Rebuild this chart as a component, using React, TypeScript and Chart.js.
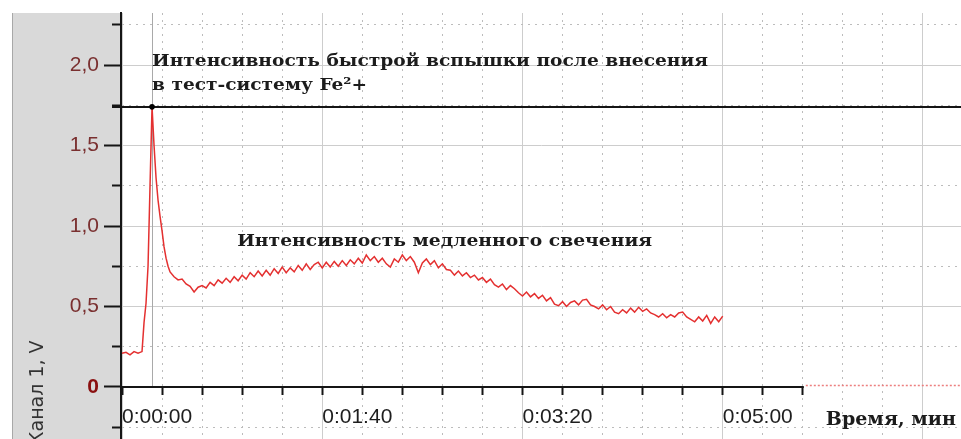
import React, { useEffect, useRef } from 'react';
import { Chart, registerables } from 'chart.js';

Chart.register(...registerables);

// ---- data ----
const timeSec = [
  0, 2, 4, 6, 8, 10, 11, 12, 13, 14,
  15, 16, 17, 18, 19, 20, 21, 22, 23, 24,
  26, 28, 30, 32, 34, 36, 38, 40, 42, 44,
  46, 48, 50, 52, 54, 56, 58, 60, 62, 64,
  66, 68, 70, 72, 74, 76, 78, 80, 82, 84,
  86, 88, 90, 92, 94, 96, 98, 100, 102, 104,
  106, 108, 110, 112, 114, 116, 118, 120, 122, 124,
  126, 128, 130, 132, 134, 136, 138, 140, 142, 144,
  146, 148, 150, 152, 154, 156, 158, 160, 162, 164,
  166, 168, 170, 172, 174, 176, 178, 180, 182, 184,
  186, 188, 190, 192, 194, 196, 198, 200, 202, 204,
  206, 208, 210, 212, 214, 216, 218, 220, 222, 224,
  226, 228, 230, 232, 234, 236, 238, 240, 242, 244,
  246, 248, 250, 252, 254, 256, 258, 260, 262, 264,
  266, 268, 270, 272, 274, 276, 278, 280, 282, 284,
  286, 288, 290, 292, 294, 296, 298, 300,
];

const channelV = [
  0.21, 0.215, 0.2, 0.22, 0.21, 0.22, 0.4, 0.52, 0.75, 1.25,
  1.74, 1.5, 1.3, 1.16, 1.06, 0.97, 0.87, 0.8, 0.75, 0.715,
  0.685, 0.665, 0.67, 0.64, 0.625, 0.59, 0.62, 0.63, 0.615, 0.65,
  0.63, 0.665, 0.645, 0.675, 0.65, 0.685, 0.66, 0.695, 0.67, 0.71,
  0.685, 0.72, 0.69, 0.725, 0.695, 0.735, 0.705, 0.745, 0.71, 0.74,
  0.715, 0.755, 0.725, 0.765, 0.73, 0.76, 0.775, 0.74, 0.775, 0.745,
  0.78, 0.75, 0.785, 0.755, 0.79, 0.765, 0.8, 0.77, 0.82, 0.785,
  0.81, 0.775, 0.8, 0.765, 0.745, 0.795, 0.775, 0.82, 0.785, 0.81,
  0.775, 0.71, 0.77, 0.795, 0.76, 0.785, 0.74, 0.765, 0.73, 0.725,
  0.695, 0.72, 0.69, 0.71, 0.68, 0.695, 0.665, 0.68, 0.65, 0.67,
  0.635, 0.62, 0.64, 0.605, 0.63, 0.61, 0.585, 0.565, 0.59, 0.56,
  0.58, 0.55, 0.57, 0.535, 0.555, 0.515, 0.505, 0.53, 0.5, 0.525,
  0.535, 0.51, 0.54, 0.545, 0.51, 0.5, 0.485, 0.51, 0.48, 0.5,
  0.465, 0.455, 0.48, 0.46, 0.49, 0.465, 0.495, 0.47, 0.485, 0.46,
  0.45, 0.435, 0.455, 0.43, 0.45, 0.435, 0.46, 0.465, 0.435, 0.42,
  0.405, 0.435, 0.41, 0.445, 0.395, 0.435, 0.405, 0.44,
];

const xTickSeconds = [
  0, 20, 40, 60, 80, 100, 120, 140, 160, 180, 200, 220, 240, 260, 280, 300,
  320, 340, 360, 380, 400,
];
const xLabelSeconds = [0, 100, 200, 300];
const xTickLabels = ['0:00:00', '0:01:40', '0:03:20', '0:05:00'];
const xAxisEndSec = 340;

const yTickValues = [-0.25, 0, 0.25, 0.5, 0.75, 1, 1.25, 1.5, 1.75, 2, 2.25];
const yLabelValues = [0, 0.5, 1, 1.5, 2];
const yTickLabels = ['0', '0,5', '1,0', '1,5', '2,0'];

const yAxisTitle = 'Канал 1, V';
const xAxisTitle = 'Время, мин';
const fastLabelLines = ['Интенсивность быстрой вспышки после внесения', 'в тест-систему Fe²+'];
const slowLabel = 'Интенсивность медленного свечения';

// ---- view settings ----
const X_MIN = -0.5;
const X_MAX = 419;
const Y_MIN = -0.323;
const Y_MAX = 2.323;

const TRANSPARENT = 'rgba(0,0,0,0)';
const SANS = '"Liberation Sans", Arial, sans-serif';
const SERIF = '"DejaVu Serif", serif';

const isMajorY = (v: number) => Math.abs(v * 2 - Math.round(v * 2)) < 1e-6;
const isMajorX = (v: number) => Math.abs(v / 100 - Math.round(v / 100)) < 1e-6;

function peakIndex() {
  let k = 0;
  for (let i = 1; i < channelV.length; i++) if (channelV[i] > channelV[k]) k = i;
  return k;
}

function fitText(ctx: CanvasRenderingContext2D, text: string, x: number, y: number, targetW: number) {
  const w = ctx.measureText(text).width;
  const sx = w > 0 ? targetW / w : 1;
  ctx.save();
  ctx.translate(x, y);
  ctx.scale(sx, 1);
  ctx.fillText(text, 0, 0);
  ctx.restore();
}

const decorPlugin = {
  id: 'decor',
  beforeDraw(chart: any) {
    const { ctx, width, height, chartArea } = chart;
    ctx.save();
    ctx.fillStyle = '#ffffff';
    ctx.fillRect(0, 0, width, height);
    ctx.fillStyle = '#d9d9d9';
    ctx.fillRect(12, chartArea.top, chartArea.left - 13, height - chartArea.top);
    ctx.strokeStyle = '#a8a8a8';
    ctx.lineWidth = 1;
    ctx.beginPath();
    ctx.moveTo(12.5, chartArea.top);
    ctx.lineTo(12.5, height);
    ctx.stroke();
    ctx.restore();
  },
  beforeDatasetsDraw(chart: any) {
    const { ctx, chartArea } = chart;
    const xs = chart.scales.x;
    const ys = chart.scales.y;
    const k = peakIndex();
    const y0 = ys.getPixelForValue(0);
    const px = xs.getPixelForValue(timeSec[k]);
    const py = ys.getPixelForValue(channelV[k]);
    ctx.save();
    // cursor line through the flash
    ctx.strokeStyle = '#a9a9a9';
    ctx.lineWidth = 1;
    ctx.beginPath();
    ctx.moveTo(Math.round(px) + 0.5, chartArea.top);
    ctx.lineTo(Math.round(px) + 0.5, y0);
    ctx.stroke();
    // x axis line
    const xe = xs.getPixelForValue(xAxisEndSec);
    ctx.strokeStyle = '#151515';
    ctx.lineWidth = 2;
    ctx.beginPath();
    ctx.moveTo(chartArea.left, Math.round(y0));
    ctx.lineTo(xe + 1, Math.round(y0));
    ctx.stroke();
    // red dotted continuation
    ctx.strokeStyle = 'rgba(236,120,120,0.95)';
    ctx.lineWidth = 1.5;
    ctx.setLineDash([2, 2]);
    ctx.beginPath();
    ctx.moveTo(xe + 3, Math.round(y0) - 1.5);
    ctx.lineTo(chartArea.right, Math.round(y0) - 1.5);
    ctx.stroke();
    ctx.setLineDash([]);
    // peak level line
    ctx.strokeStyle = '#151515';
    ctx.lineWidth = 2;
    ctx.beginPath();
    ctx.moveTo(chartArea.left - 9, Math.round(py));
    ctx.lineTo(chartArea.right, Math.round(py));
    ctx.stroke();
    ctx.restore();
  },
  afterDraw(chart: any) {
    const { ctx, height } = chart;
    const xs = chart.scales.x;
    const ys = chart.scales.y;
    const k = peakIndex();
    ctx.save();
    ctx.fillStyle = '#1c1c1c';
    ctx.textBaseline = 'alphabetic';
    ctx.textAlign = 'left';
    ctx.font = `bold 17px ${SERIF}`;
    const fx = xs.getPixelForValue(timeSec[k]);
    fitText(ctx, fastLabelLines[0], fx, ys.getPixelForValue(1.995), 556);
    fitText(ctx, fastLabelLines[1], fx, ys.getPixelForValue(1.845), 215);
    fitText(ctx, slowLabel, xs.getPixelForValue(57.5), ys.getPixelForValue(0.876), 415);
    ctx.font = `bold 19px ${SERIF}`;
    fitText(ctx, xAxisTitle, xs.getPixelForValue(351.5), ys.getPixelForValue(-0.235), 130);
    // y axis title (rotated)
    ctx.fillStyle = '#333333';
    ctx.font = `19px "DejaVu Sans", sans-serif`;
    ctx.translate(43, height + 6);
    ctx.rotate(-Math.PI / 2);
    ctx.fillText(yAxisTitle, 0, 0);
    ctx.restore();
  },
};

export default function App() {
  const ref = useRef<HTMLCanvasElement>(null);

  useEffect(() => {
    const canvas = ref.current;
    if (!canvas) return;
    const k = peakIndex();
    const chart = new Chart(canvas, {
      type: 'line',
      data: {
        datasets: [
          {
            label: yAxisTitle,
            data: timeSec.map((t, i) => ({ x: t, y: channelV[i] })),
            borderColor: 'rgb(228,48,48)',
            borderWidth: 1.5,
            tension: 0,
            pointRadius: (c: any) => (c.dataIndex === k ? 2.8 : 0),
            pointBackgroundColor: '#000',
            pointBorderWidth: 0,
            xAxisID: 'x',
            yAxisID: 'y',
          },
        ],
      },
      options: {
        animation: false,
        responsive: false,
        devicePixelRatio: 1,
        layout: { padding: { top: 13, left: 0, right: 0, bottom: 0 } },
        plugins: { legend: { display: false }, tooltip: { enabled: false } },
        scales: {
          x: {
            type: 'linear',
            axis: 'x',
            min: X_MIN,
            max: X_MAX,
            position: { y: 0 },
            afterBuildTicks: (s: any) => {
              s.ticks = xTickSeconds.map((v) => ({ value: v }));
            },
            afterFit: (s: any) => {
              s.paddingLeft = 0;
              s.paddingRight = 0;
              s.paddingTop = 0;
              s.paddingBottom = 0;
            },
            ticks: {
              autoSkip: false,
              maxRotation: 0,
              align: 'start',
              padding: 10,
              color: '#1e1e1e',
              font: { family: SANS, size: 21 },
              callback: (v: any) => {
                const i = xLabelSeconds.indexOf(Number(v));
                return i >= 0 ? xTickLabels[i] : '';
              },
            },
            grid: {
              color: (c: any) => (c.tick && isMajorX(c.tick.value) ? '#cdcdcd' : '#bcbcbc'),
              lineWidth: 1,
              tickLength: 8,
              tickWidth: 2,
              tickColor: (c: any) => (c.tick && c.tick.value <= xAxisEndSec ? '#151515' : TRANSPARENT),
            },
            border: {
              display: false,
              dash: (c: any) => (c.tick && !isMajorX(c.tick.value) ? [2, 5] : []),
            },
          },
          y: {
            type: 'linear',
            axis: 'y',
            position: 'left',
            weight: 1,
            min: Y_MIN,
            max: Y_MAX,
            afterBuildTicks: (s: any) => {
              s.ticks = yTickValues.map((v) => ({ value: v }));
            },
            afterFit: (s: any) => {
              s.width = 121;
              s.paddingTop = 0;
              s.paddingBottom = 0;
            },
            ticks: {
              autoSkip: false,
              padding: 5,
              color: (c: any) => (c.tick && c.tick.value === 0 ? '#8a1010' : '#7a3030'),
              font: (c: any) => ({
                family: SANS,
                size: 21,
                weight: c.tick && c.tick.value === 0 ? 'bold' : 'normal',
              }),
              callback: (v: any) => {
                const i = yLabelValues.findIndex((u) => Math.abs(u - Number(v)) < 1e-9);
                return i >= 0 ? yTickLabels[i] : '';
              },
            },
            grid: {
              color: (c: any) => {
                if (!c.tick) return TRANSPARENT;
                const v = c.tick.value;
                if (Math.abs(v) < 1e-9) return TRANSPARENT;
                return isMajorY(v) ? '#cdcdcd' : '#bcbcbc';
              },
              lineWidth: 1,
              tickLength: 17,
              tickWidth: 2,
              tickColor: (c: any) => (c.tick && isMajorY(c.tick.value) ? '#151515' : TRANSPARENT),
            },
            border: {
              display: true,
              color: '#151515',
              width: 2,
              dash: (c: any) => (c.tick && !isMajorY(c.tick.value) ? [2, 5] : []),
            },
          },
          yMinor: {
            type: 'linear',
            axis: 'y',
            position: 'left',
            weight: 0,
            min: Y_MIN,
            max: Y_MAX,
            afterBuildTicks: (s: any) => {
              s.ticks = yTickValues.filter((v) => !isMajorY(v)).map((v) => ({ value: v }));
            },
            afterFit: (s: any) => {
              s.width = 0;
              s.paddingTop = 0;
              s.paddingBottom = 0;
            },
            ticks: { display: false },
            grid: {
              drawOnChartArea: false,
              drawTicks: true,
              tickLength: 9,
              tickWidth: 2,
              tickColor: '#151515',
            },
            border: { display: false },
          },
        },
      } as any,
      plugins: [decorPlugin],
    });
    return () => chart.destroy();
  }, []);

  return (
    <div style={{ position: 'absolute', left: 0, top: 0, width: 961, height: 439, background: '#fff' }}>
      <canvas ref={ref} width={961} height={439} style={{ display: 'block', width: 961, height: 439 }} />
    </div>
  );
}
